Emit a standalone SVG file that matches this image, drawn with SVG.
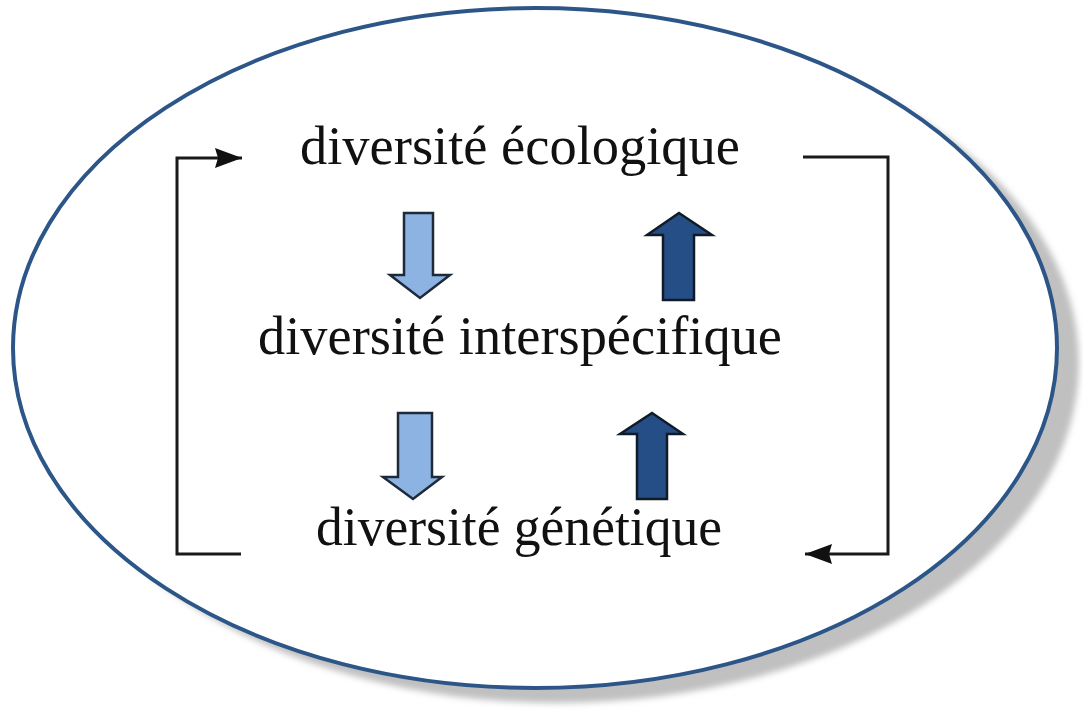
<svg xmlns="http://www.w3.org/2000/svg" width="1083" height="713" viewBox="0 0 1083 713">
  <style>
    .lbl { font-family: "Liberation Serif", "Times New Roman", serif; font-size: 54px; fill: #111111; }
    .conn { fill: none; stroke: #1a1a1a; stroke-width: 3; }
    .down { fill: #8DB3E2; stroke: #1c2a3a; stroke-width: 2.5; stroke-linejoin: miter; }
    .up { fill: #254E86; stroke: #111b28; stroke-width: 2.5; stroke-linejoin: miter; }
  </style>
  <defs>
    <filter id="blur" x="-10%" y="-10%" width="120%" height="120%">
      <feGaussianBlur stdDeviation="3"/>
    </filter>
    <marker id="ah" markerUnits="userSpaceOnUse" markerWidth="28" markerHeight="20" refX="27" refY="10" orient="auto">
      <path d="M0,0 L27,10 L0,20 L3,10 Z" fill="#111"/>
    </marker>
  </defs>
  <rect width="1083" height="713" fill="#ffffff"/>
  <g id="frame">
    <ellipse cx="557" cy="363" rx="522" ry="340" fill="#c0c0c0" filter="url(#blur)"/>
    <ellipse cx="535" cy="348" rx="522" ry="340" fill="#ffffff" stroke="#2D5688" stroke-width="4"/>
  </g>
  <g id="connectors">
    <polyline class="conn" points="241,554 177,554 177,158 242,158" marker-end="url(#ah)"/>
    <polyline class="conn" points="803,157 888,157 888,554 805,554" marker-end="url(#ah)"/>
  </g>
  <g id="node-ecologique">
    <text class="lbl" x="300" y="164" textLength="440" lengthAdjust="spacingAndGlyphs">diversité écologique</text>
  </g>
  <g id="node-interspecifique">
    <text class="lbl" x="258" y="354" textLength="524" lengthAdjust="spacingAndGlyphs">diversité interspécifique</text>
  </g>
  <g id="node-genetique">
    <text class="lbl" x="316" y="545" textLength="406" lengthAdjust="spacingAndGlyphs">diversité génétique</text>
  </g>
  <g id="arrow-down-1">
    <polygon class="down" points="404,213 433,213 433,275 450,275 420,298 390,275 404,275"/>
  </g>
  <g id="arrow-up-1">
    <polygon class="up" points="679,213 712,235 694,235 694,300 663,300 663,235 647,235"/>
  </g>
  <g id="arrow-down-2">
    <polygon class="down" points="398,413 432,413 432,477 442,477 413,499 383,477 398,477"/>
  </g>
  <g id="arrow-up-2">
    <polygon class="up" points="652,413 683,434 667,434 667,499 637,499 637,434 620,434"/>
  </g>
</svg>
